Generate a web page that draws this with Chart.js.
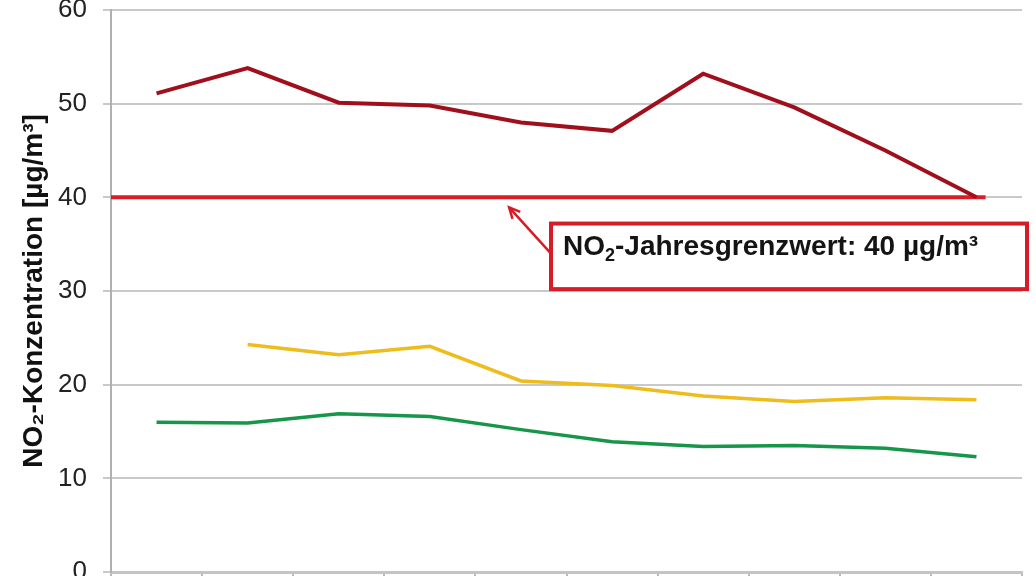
<!DOCTYPE html>
<html>
<head>
<meta charset="utf-8">
<script src="https://cdn.jsdelivr.net/npm/chart.js@4/dist/chart.umd.min.js"></script>
<style>
  html, body { margin: 0; padding: 0; background: #fff; }
  #wrap { width: 1036px; height: 576px; position: relative; }
</style>
</head>
<body>
<div id="wrap"><canvas id="chart"></canvas></div>
<script>
// ten measuring years, labels are cut off in the picture
const categories = ["1", "2", "3", "4", "5", "6", "7", "8", "9", "10"];
const seriesRed = [51.1, 53.8, 50.1, 49.8, 48.0, 47.1, 53.2, 49.6, 45.0, 40.0];
const seriesYellow = [null, 24.3, 23.2, 24.1, 20.4, 19.9, 18.8, 18.2, 18.6, 18.4];
const seriesGreen = [16.0, 15.9, 16.9, 16.6, 15.2, 13.9, 13.4, 13.5, 13.2, 12.3];
const limitValue = 40;
const limitSpan = [0, 9.6];
const yTicks = [0, 10, 20, 30, 40, 50, 60];
const limitLabel = ["NO", "2", "-Jahresgrenzwert: 40 µg/m³"];
const yTitle = "NO₂-Konzentration [µg/m³]";

const FONT = "'Liberation Sans', Arial, sans-serif";

const toPoints = function(values) {
    return values.map(function(v, i) { return { x: i + 0.5, y: v }; });
};

const annotationPlugin = {
    id: "limitNote",
    afterDatasetsDraw: function(chart) {
        const ctx = chart.ctx;
        const x = chart.scales.x;
        const y = chart.scales.y;
        const left = x.getPixelForValue(4.83);
        const top = y.getPixelForValue(37.2);
        const bottom = y.getPixelForValue(30.2);
        const right = left + 476;
        ctx.save();
        ctx.strokeStyle = "rgb(214,28,38)";
        ctx.lineWidth = 4;
        ctx.strokeRect(left, top, right - left, bottom - top);

        // arrow towards the limit line
        const tipX = x.getPixelForValue(4.37);
        const tipY = y.getPixelForValue(limitValue) + 10;
        const tailX = left;
        const tailY = top + 30;
        ctx.lineWidth = 2.5;
        ctx.beginPath();
        ctx.moveTo(tailX, tailY);
        ctx.lineTo(tipX, tipY);
        ctx.stroke();
        const ang = Math.atan2(tipY - tailY, tipX - tailX);
        ctx.beginPath();
        ctx.moveTo(tipX + 12 * Math.cos(ang + Math.PI - 0.45), tipY + 12 * Math.sin(ang + Math.PI - 0.45));
        ctx.lineTo(tipX, tipY);
        ctx.lineTo(tipX + 12 * Math.cos(ang + Math.PI + 0.45), tipY + 12 * Math.sin(ang + Math.PI + 0.45));
        ctx.stroke();

        // label text with subscript
        ctx.fillStyle = "#141414";
        ctx.textBaseline = "alphabetic";
        ctx.font = "bold 28px " + FONT;
        let tx = left + 12;
        const ty = top + 31;
        ctx.fillText(limitLabel[0], tx, ty);
        tx += ctx.measureText(limitLabel[0]).width;
        ctx.font = "bold 18px " + FONT;
        ctx.fillText(limitLabel[1], tx, ty + 6);
        tx += ctx.measureText(limitLabel[1]).width;
        ctx.font = "bold 28px " + FONT;
        ctx.fillText(limitLabel[2], tx, ty);
        ctx.restore();
    }
};

new Chart(document.getElementById("chart"), {
    type: "line",
    data: {
        datasets: [
            {
                label: "Messstation 1",
                data: toPoints(seriesRed),
                borderColor: "rgb(160,16,28)",
                borderWidth: 4,
                order: 0
            },
            {
                label: "Jahresgrenzwert",
                data: limitSpan.map(function(v) { return { x: v, y: limitValue }; }),
                borderColor: "rgb(218,30,40)",
                borderWidth: 4,
                order: 3
            },
            {
                label: "Messstation 2",
                data: toPoints(seriesYellow),
                borderColor: "rgb(238,188,28)",
                borderWidth: 3.5,
                order: 1
            },
            {
                label: "Messstation 3",
                data: toPoints(seriesGreen),
                borderColor: "rgb(22,150,72)",
                borderWidth: 3.5,
                order: 2
            }
        ]
    },
    options: {
        responsive: true,
        maintainAspectRatio: false,
        animation: false,
        layout: {
            padding: { top: 10, right: 14, left: 0, bottom: 0 }
        },
        elements: {
            point: { radius: 0 },
            line: { tension: 0, borderCapStyle: "butt", borderJoinStyle: "miter" }
        },
        scales: {
            x: {
                type: "linear",
                min: 0,
                max: categories.length,
                afterBuildTicks: function(scale) {
                    scale.ticks = categories.map(function(c, i) { return { value: i }; })
                        .concat([{ value: categories.length }]);
                },
                afterFit: function(scale) {
                    scale.height = 4;
                    scale.paddingLeft = 0;
                    scale.paddingRight = 0;
                },
                ticks: { display: false },
                grid: {
                    drawOnChartArea: false,
                    tickLength: 5,
                    color: "#b8b8b8",
                    lineWidth: 2
                },
                border: { color: "#c4c4c4", width: 3 }
            },
            y: {
                min: 0,
                max: 60,
                afterBuildTicks: function(scale) {
                    scale.ticks = yTicks.map(function(v) { return { value: v }; });
                },
                afterFit: function(scale) {
                    scale.width = 111;
                    scale.paddingTop = 0;
                    scale.paddingBottom = 0;
                },
                ticks: {
                    color: "#222",
                    padding: 16,
                    font: { family: FONT, size: 26 }
                },
                grid: {
                    color: "#c9c9c9",
                    lineWidth: 2,
                    tickLength: 8
                },
                border: { color: "#b0b0b0", width: 2 },
                title: {
                    display: true,
                    text: yTitle,
                    color: "#111",
                    padding: { top: 17, bottom: 0 },
                    font: { family: FONT, size: 28, weight: "bold" }
                }
            }
        },
        plugins: {
            legend: { display: false },
            tooltip: { enabled: false }
        }
    },
    plugins: [annotationPlugin]
});
</script>
</body>
</html>
